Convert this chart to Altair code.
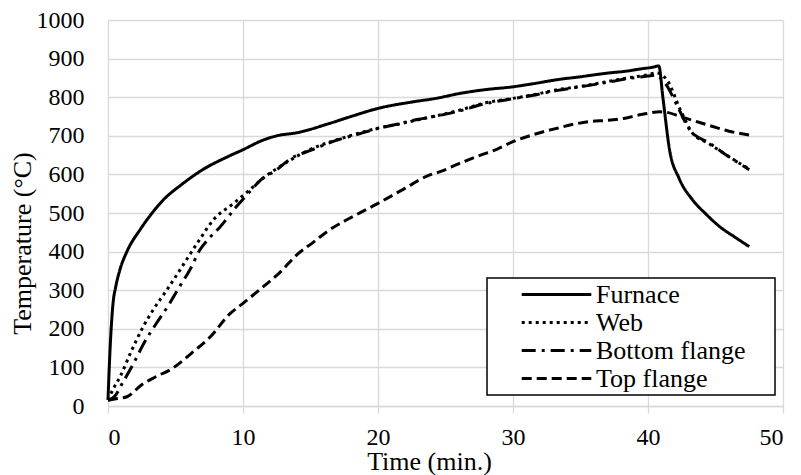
import altair as alt
import pandas as pd

series_names = ["Furnace", "Web", "Bottom flange", "Top flange"]

furnace_t = [0, 0.15, 0.4, 0.55, 0.9, 1.4, 2.4, 3.2, 4.1, 5.5, 7.0, 9.0, 10.0, 11.5, 12.5,
             14.0, 16.4, 18.0, 20.0, 22.6, 24.3, 26.1, 27.8, 30.0, 31.5, 33.2, 35.0, 36.9,
             38.5, 39.4, 40.4, 40.8, 41.1, 41.6, 42.3, 43.3, 44.3, 45.3, 46.5, 47.5]
furnace_v = [16, 145, 275, 305, 355, 400, 458, 497, 534, 575, 612, 648, 664, 689, 700,
             708, 732, 750, 771, 788, 797, 810, 819, 827, 835, 845, 853, 862,
             868, 873, 878, 881, 800, 663, 590, 534, 497, 465, 436, 413]

web_t = [0, 0.4, 0.9, 1.7, 2.6, 3.4, 4.35, 5.8, 6.8, 7.8, 9.3, 10.5, 11.3, 12.5, 13.5,
         15.0, 16.9, 18.5, 19.9, 21.5, 22.9, 24.6, 26.1, 27.8, 30.0, 31.5, 33.2, 35.0,
         36.9, 38.5, 40.0, 40.6, 41.4, 42.4, 43.3, 44.5, 45.6, 46.5, 47.4]
web_v = [15, 45, 76, 140, 205, 252, 300, 378, 432, 482, 525, 560, 585, 615, 637,
         665, 689, 706, 719, 730, 741, 754, 767, 784, 797, 806, 819, 828,
         840, 850, 858, 863, 845, 767, 707, 680, 655, 635, 616]

bottom_t = [0, 0.5, 1.0, 1.9, 2.7, 3.6, 4.5, 5.3, 6.1, 6.8, 7.5, 8.3, 9.5, 10.5, 11.3,
            12.5, 13.5, 15.0, 16.9, 18.5, 19.9, 21.5, 22.9, 24.6, 26.1, 27.8, 30.0, 31.5,
            33.2, 35.0, 36.9, 38.5, 40.0, 40.5, 41.3, 42.2, 43.1, 44.6, 45.6, 46.6, 47.5]
bottom_v = [15, 25, 55, 111, 165, 215, 262, 309, 355, 404, 435, 464, 516, 555, 585,
            612, 640, 662, 688, 704, 718, 731, 742, 753, 765, 782, 796, 805,
            817, 827, 838, 848, 855, 857, 835, 775, 715, 680, 655, 632, 612]

top_t = [0, 0.5, 1.4, 2.5, 3.5, 4.8, 5.3, 6.3, 7.6, 9.0, 10.0, 11.5, 12.7, 14.0, 15.2,
         16.4, 18.2, 20.0, 21.9, 23.8, 24.6, 26.0, 27.6, 28.8, 30.0, 31.5, 33.2, 34.5,
         35.7, 37.0, 38.2, 39.5, 40.9, 41.5, 42.4, 43.5, 44.8, 46.0, 47.5]
top_v = [15, 18, 24, 55, 75, 98, 111, 140, 180, 238, 266, 309, 345, 392, 424,
         456, 492, 525, 562, 598, 607, 628, 650, 665, 685, 703, 719, 730,
         737, 740, 745, 755, 762, 760, 750, 738, 724, 712, 702]

dash_patterns = [[1, 0], [3, 4], [14, 6, 3, 6], [10, 5]]

x_ticks = [0, 10, 20, 30, 40, 50]
y_ticks = [0, 100, 200, 300, 400, 500, 600, 700, 800, 900, 1000]

rows = []
for name, ts, vs in zip(series_names,
                        [furnace_t, web_t, bottom_t, top_t],
                        [furnace_v, web_v, bottom_v, top_v]):
    for i, (t, v) in enumerate(zip(ts, vs)):
        rows.append({"series": name, "time": t, "temp": v, "order": i})
df = pd.DataFrame(rows)

FONT = "'Liberation Serif', 'Times New Roman', Times, 'DejaVu Serif', serif"
# non-breaking spaces followed by a zero-width space so that the padding is not trimmed
PAD = "\u00a0" * 4 + "\u200b"

chart = alt.Chart(df).mark_line(strokeWidth=3, color="black", interpolate="monotone").encode(
    x=alt.X("time:Q", scale=alt.Scale(domain=[0, 50], nice=False),
            axis=alt.Axis(values=x_ticks, title="Time (min.)", grid=True, format="d",
                          domain=True, domainColor="#d9d9d9", domainWidth=1.3,
                          ticks=True, tickColor="#d9d9d9", tickSize=7, tickWidth=1.3,
                          labelPadding=12, labelFontSize=24, labelFont=FONT,
                          titleFont=FONT, titleFontSize=26, titleFontWeight="normal",
                          titleX=321, titleY=63, titleBaseline="alphabetic")),
    y=alt.Y("temp:Q", scale=alt.Scale(domain=[0, 1000], nice=False),
            axis=alt.Axis(values=y_ticks, title="Temperature (°C)", grid=True, format="d",
                          domain=False, ticks=False, tickSize=0,
                          labelPadding=24, labelFontSize=24, labelFont=FONT,
                          titleFont=FONT, titleFontSize=26, titleFontWeight="normal",
                          titleX=-78, titleY=223, titleBaseline="alphabetic")),
    strokeDash=alt.StrokeDash("series:N",
                              scale=alt.Scale(domain=series_names, range=dash_patterns),
                              legend=alt.Legend(title=None, orient="none",
                                                legendX=379, legendY=258,
                                                symbolType="M-2.9,0H2.9", symbolSize=576,
                                                symbolStrokeWidth=3, symbolStrokeColor="black",
                                                symbolOffset=53,
                                                labelFontSize=26, labelFont=FONT,
                                                labelColor="black",
                                                labelExpr=f"datum.label + '{PAD}'",
                                                labelLimit=400,
                                                labelOffset=26, rowPadding=1, padding=3,
                                                strokeColor="black", fillColor="white")),
    order="order:Q",
).properties(
    width=675, height=386,
    autosize=alt.AutoSizeParams(type="none"),
    padding={"left": 108, "top": 20, "right": 18, "bottom": 69},
).configure(
    font=FONT,
).configure_axis(
    labelColor="black", titleColor="black",
    gridColor="#d9d9d9", gridWidth=1.3,
).configure_legend(
    strokeWidth=1.5,
).configure_view(stroke=None)

chart.save("out.html", embed_options={"renderer": "svg", "actions": False})
